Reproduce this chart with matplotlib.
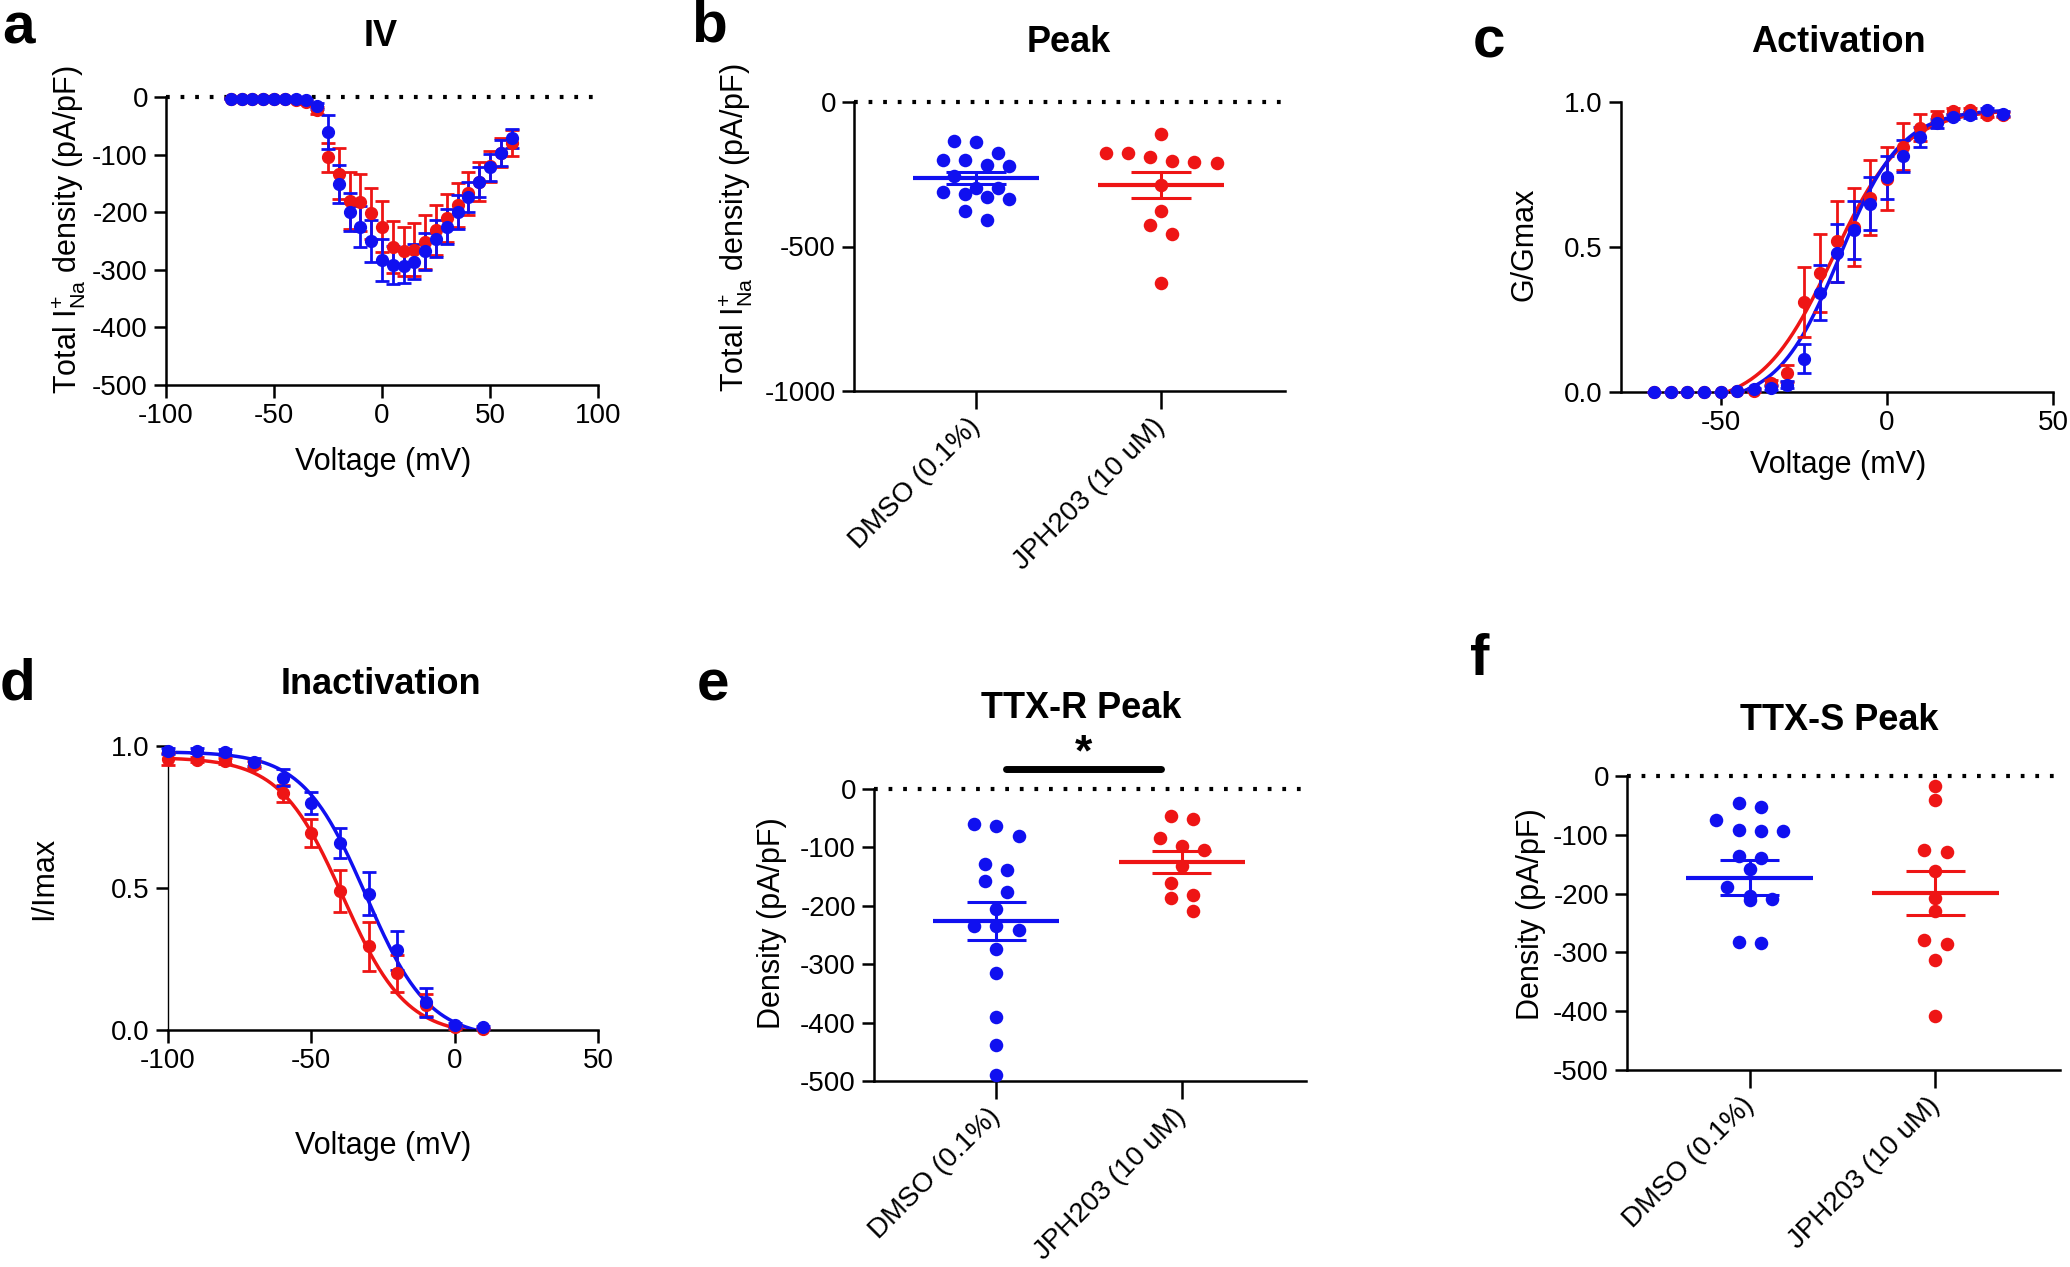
import matplotlib
matplotlib.use('Agg')
import matplotlib.pyplot as plt
import numpy as np

plt.rcParams['font.family'] = ['Liberation Sans', 'DejaVu Sans']
plt.rcParams['mathtext.fontset'] = 'custom'
plt.rcParams['mathtext.rm'] = 'Liberation Sans'
plt.rcParams['mathtext.default'] = 'regular'
plt.rcParams['axes.unicode_minus'] = False

BLUE = '#1010F0'
RED = '#EE1515'

# ---- a: IV ----
iv_v = [-70, -65, -60, -55, -50, -45, -40, -35, -30, -25, -20, -15, -10, -5,
        0, 5, 10, 15, 20, 25, 30, 35, 40, 45, 50, 55, 60]
iv_dmso = [-3, -3, -4, -4, -4, -4, -4, -5, -15, -61, -151, -199, -225, -250,
           -283, -291, -294, -286, -268, -246, -225, -200, -173, -147, -122, -97, -72]
iv_dmso_sem = [1, 1, 1, 1, 1, 1, 1, 2, 5, 29, 33, 33, 36, 36,
               37, 33, 29, 30, 32, 32, 30, 30, 26, 26, 23, 22, 16]
iv_jph = [-3, -3, -3, -3, -4, -4, -5, -9, -23, -105, -133, -180, -183, -202,
          -225, -261, -268, -265, -251, -231, -210, -188, -167, -147, -120, -97, -80]
iv_jph_sem = [1, 1, 1, 1, 1, 1, 2, 3, 6, 25, 44, 50, 50, 44,
              44, 45, 43, 46, 47, 44, 41, 38, 37, 34, 27, 25, 22]

# ---- b: Peak ----
groups = ['DMSO (0.1%)', 'JPH203 (10 uM)']
peak_dmso = [-135, -138, -176, -201, -201, -223, -218, -257, -320, -299, -310, -299,
             -334, -328, -377, -409]
peak_jph = [-111, -176, -178, -192, -208, -212, -205, -286, -377, -424, -456, -627]
peak_mean = [-263, -287]
peak_sem = [22, 45]

# ---- c: Activation ----
act_v = [-70, -65, -60, -55, -50, -45, -40, -35, -30, -25, -20, -15, -10, -5,
         0, 5, 10, 15, 20, 25, 30, 35]
act_dmso = [0, 0, 0, 0, 0, 0.005, 0.01, 0.015, 0.025, 0.115, 0.343, 0.48, 0.56, 0.65,
            0.74, 0.815, 0.88, 0.927, 0.95, 0.956, 0.973, 0.96]
act_dmso_sem = [0, 0, 0, 0, 0, 0.003, 0.005, 0.008, 0.012, 0.05, 0.095, 0.1, 0.1, 0.09,
                0.075, 0.055, 0.035, 0.015, 0.01, 0.01, 0.008, 0.008]
act_jph = [0, 0, 0, 0, 0, 0.002, 0.005, 0.03, 0.064, 0.31, 0.41, 0.52, 0.57, 0.67,
           0.736, 0.846, 0.912, 0.95, 0.968, 0.973, 0.956, 0.956]
act_jph_sem = [0, 0, 0, 0, 0, 0.002, 0.004, 0.01, 0.03, 0.12, 0.135, 0.14, 0.135, 0.13,
               0.11, 0.08, 0.045, 0.02, 0.01, 0.008, 0.008, 0.008]
# Boltzmann fit: bottom, top, V1/2, slope
act_fit_dmso = [-0.04, 0.975, -14.2, 9.3]
act_fit_jph = [-0.05, 0.975, -16.3, 10.7]

# ---- d: Inactivation ----
inact_v = [-100, -90, -80, -70, -60, -50, -40, -30, -20, -10, 0, 10]
inact_dmso = [0.982, 0.984, 0.978, 0.944, 0.888, 0.80, 0.658, 0.48, 0.28, 0.097, 0.016, 0.01]
inact_dmso_sem = [0.01, 0.01, 0.01, 0.015, 0.03, 0.038, 0.054, 0.076, 0.07, 0.05, 0.01, 0.005]
inact_jph = [0.954, 0.952, 0.946, 0.934, 0.834, 0.694, 0.49, 0.295, 0.2, 0.088, 0.01, 0.005]
inact_jph_sem = [0.02, 0.01, 0.01, 0.012, 0.03, 0.05, 0.074, 0.087, 0.065, 0.04, 0.005, 0.003]
inact_fit_dmso = [-0.03, 0.98, -31, 11]
inact_fit_jph = [-0.02, 0.96, -39, 11]

# ---- e: TTX-R Peak ----
ttxr_dmso = [-60, -63, -80, -138, -129, -158, -177, -205, -235, -241, -235, -274,
             -315, -390, -439, -489]
ttxr_jph = [-46, -52, -84, -98, -105, -131, -161, -182, -187, -209]
ttxr_mean = [-226, -125]
ttxr_sem = [32, 18]

# ---- f: TTX-S Peak ----
ttxs_dmso = [-46, -53, -75, -94, -93, -91, -136, -140, -159, -188, -204, -211, -210,
             -284, -282]
ttxs_jph = [-17, -40, -125, -130, -161, -207, -230, -286, -279, -313, -408]
ttxs_mean = [-173, -199]
ttxs_sem = [30, 37]

W, H = 2070, 1267
fig = plt.figure(figsize=(W / 100, H / 100), dpi=100)

TICK = 20
LAB = 22
TITLE = 26
LETTER = 42


def px_axes(x0, x1, ytop, ybot):
    return fig.add_axes([x0 / W, 1 - ybot / H, (x1 - x0) / W, (ybot - ytop) / H])


def txt(x, y, s, **kw):
    kw.setdefault('ha', 'center')
    kw.setdefault('va', 'center')
    fig.text(x / W, 1 - y / H, s, **kw)


def style(ax):
    for s in ['top', 'right']:
        ax.spines[s].set_visible(False)
    for s in ['left', 'bottom']:
        ax.spines[s].set_linewidth(1.8)
    ax.tick_params(width=1.8, length=9, labelsize=TICK, pad=4)


def zero_line(ax):
    ax.axhline(0, color='black', lw=3, ls=(0, (0.9, 2.6)), clip_on=False, zorder=1)


def boltz_up(v, p):
    b, t, vh, k = p
    return b + (t - b) / (1 + np.exp((vh - v) / k))


def boltz_down(v, p):
    b, t, vh, k = p
    return b + (t - b) / (1 + np.exp((v - vh) / k))


def err(ax, x, y, e, c):
    cont = ax.errorbar(x, y, yerr=e, fmt='o', color=c, ms=8.5, capsize=5,
                       elinewidth=2, capthick=2, zorder=3)
    for art in cont.get_children():
        art.set_clip_on(False)


def swarm(vals, row_h, step):
    vals = np.asarray(vals, dtype=float)
    order = np.argsort(-vals)
    offs = np.zeros(len(vals))
    rows, cur = [], []
    for i in order:
        if cur and vals[cur[0]] - vals[i] > row_h:
            rows.append(cur)
            cur = []
        cur.append(i)
    rows.append(cur)
    for r in rows:
        n = len(r)
        for j, i in enumerate(r):
            offs[i] = (j - (n - 1) / 2) * step
    return offs


def dot_panel(ax, data, means, sems, row_h):
    for k, (vals, c) in enumerate(zip(data, [BLUE, RED])):
        xs = k + swarm(vals, row_h, 0.12)
        ax.scatter(xs, vals, s=95, color=c, linewidths=0, zorder=3, clip_on=False)
        ax.hlines(means[k], k - 0.34, k + 0.34, color=c, lw=3, zorder=4)
        ax.vlines(k, means[k] - sems[k], means[k] + sems[k], color=c, lw=2.2, zorder=4)
        ax.hlines([means[k] - sems[k], means[k] + sems[k]], k - 0.16, k + 0.16,
                  color=c, lw=2.2, zorder=4)
    ax.set_xlim(-0.66, 1.67)
    ax.set_xticks([0, 1])
    ax.set_xticklabels(groups, rotation=45, ha='right', va='center',
                       rotation_mode='anchor')
    ax.tick_params(axis='x', length=13, pad=10)


# a
ax = px_axes(166, 598, 97, 385)
style(ax)
zero_line(ax)
err(ax, iv_v, iv_jph, iv_jph_sem, RED)
err(ax, iv_v, iv_dmso, iv_dmso_sem, BLUE)
ax.set_xlim(-100, 100)
ax.set_ylim(-500, 0)
ax.set_xticks([-100, -50, 0, 50, 100])
ax.set_yticks([0, -100, -200, -300, -400, -500])
txt(383, 462, 'Voltage (mV)', fontsize=LAB)
txt(69, 230, r'Total I$_{Na}^{+}$ density (pA/pF)', fontsize=LAB, rotation=90)
txt(381, 37, 'IV', fontsize=TITLE, fontweight='bold')
txt(18, 29, 'a', fontsize=LETTER, fontweight='bold')

# b
ax = px_axes(854, 1285, 102, 391)
style(ax)
zero_line(ax)
dot_panel(ax, [peak_dmso, peak_jph], peak_mean, peak_sem, 45)
ax.set_ylim(-1000, 0)
ax.set_yticks([0, -500, -1000])
txt(735, 228, r'Total I$_{Na}^{+}$ density (pA/pF)', fontsize=LAB, rotation=90)
txt(1069, 42, 'Peak', fontsize=TITLE, fontweight='bold')
txt(709, 26, 'b', fontsize=LETTER, fontweight='bold')

# c
ax = px_axes(1621, 2053, 102, 392)
style(ax)
vv = np.linspace(-70, 35, 300)
ax.plot(vv, boltz_up(vv, act_fit_jph), color=RED, lw=2.5, zorder=2)
ax.plot(vv, boltz_up(vv, act_fit_dmso), color=BLUE, lw=2.5, zorder=2)
err(ax, act_v, act_jph, act_jph_sem, RED)
err(ax, act_v, act_dmso, act_dmso_sem, BLUE)
ax.set_xlim(-80, 50)
ax.set_ylim(0, 1)
ax.set_xticks([-50, 0, 50])
ax.set_yticks([0, 0.5, 1.0])
ax.set_yticklabels(['0.0', '0.5', '1.0'])
txt(1838, 465, 'Voltage (mV)', fontsize=LAB)
txt(1525, 244, 'G/Gmax', fontsize=LAB, rotation=90)
txt(1838, 42, 'Activation', fontsize=TITLE, fontweight='bold')
txt(1489, 42, 'c', fontsize=LETTER, fontweight='bold')

# d
ax = px_axes(168, 598, 746, 1030)
style(ax)
ax.spines['left'].set_linewidth(1.0)
vv = np.linspace(-100, 10, 300)
ax.plot(vv, boltz_down(vv, inact_fit_jph), color=RED, lw=2.5, zorder=2)
ax.plot(vv, boltz_down(vv, inact_fit_dmso), color=BLUE, lw=2.5, zorder=2)
err(ax, inact_v, inact_jph, inact_jph_sem, RED)
err(ax, inact_v, inact_dmso, inact_dmso_sem, BLUE)
ax.set_xlim(-100, 50)
ax.set_ylim(0, 1)
ax.set_xticks([-100, -50, 0, 50])
ax.set_yticks([0, 0.5, 1.0])
ax.set_yticklabels(['0.0', '0.5', '1.0'])
txt(383, 1146, 'Voltage (mV)', fontsize=LAB)
txt(44, 878, 'I/Imax', fontsize=LAB, rotation=90)
txt(381, 684, 'Inactivation', fontsize=TITLE, fontweight='bold')
txt(18, 684, 'd', fontsize=LETTER, fontweight='bold')

# e
ax = px_axes(874, 1306, 789, 1081)
style(ax)
zero_line(ax)
dot_panel(ax, [ttxr_dmso, ttxr_jph], ttxr_mean, ttxr_sem, 22)
ax.set_ylim(-500, 0)
ax.set_yticks([0, -100, -200, -300, -400, -500])
ax.plot([0.05, 0.89], [35, 35], color='black', lw=5, solid_capstyle='round',
        clip_on=False)
ax.text(0.47, 60, '*', fontsize=32, fontweight='bold', ha='center', va='center')
txt(772, 923, 'Density (pA/pF)', fontsize=LAB, rotation=90)
txt(1081, 709, 'TTX-R Peak', fontsize=TITLE, fontweight='bold')
txt(713, 686, 'e', fontsize=LETTER, fontweight='bold')

# f
ax = px_axes(1627, 2060, 776, 1070)
style(ax)
zero_line(ax)
dot_panel(ax, [ttxs_dmso, ttxs_jph], ttxs_mean, ttxs_sem, 22)
ax.set_ylim(-500, 0)
ax.set_yticks([0, -100, -200, -300, -400, -500])
txt(1531, 914, 'Density (pA/pF)', fontsize=LAB, rotation=90)
txt(1839, 720, 'TTX-S Peak', fontsize=TITLE, fontweight='bold')
txt(1480, 660, 'f', fontsize=LETTER, fontweight='bold')

plt.savefig('out.png', dpi=100)
plt.close()
